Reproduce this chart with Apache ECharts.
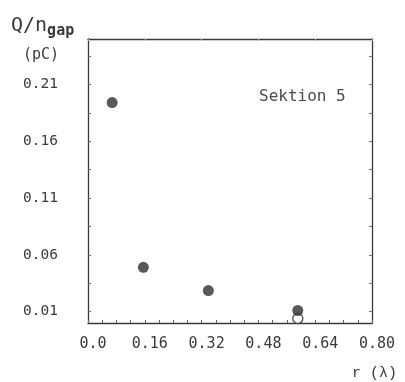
<!DOCTYPE html>
<html>
<head>
<meta charset="utf-8">
<script src="https://cdn.jsdelivr.net/npm/echarts@6/dist/echarts.min.js"></script>
<style>
  html, body { margin: 0; padding: 0; background: #fff; }
  #chart { width: 405px; height: 382px; }
</style>
</head>
<body>
<div id="chart"></div>
<script>
// Charge per gap versus radius, section 5
const rValues      = [0.068, 0.156, 0.339, 0.591];   // r (λ), filled points
const qValues      = [0.194, 0.049, 0.0285, 0.011];  // Q/n_gap (pC), filled points
const rOpen        = [0.591];                        // r (λ), open point
const qOpen        = [0.004];                        // Q/n_gap (pC), open point
const xTicks       = [0, 0.16, 0.32, 0.48, 0.64, 0.80];
const xTickLabels  = ['0.0', '0.16', '0.32', '0.48', '0.64', '0.80'];
const yTicks       = [0.01, 0.06, 0.11, 0.16, 0.21];
const yTickLabels  = ['0.01', '0.06', '0.11', '0.16', '0.21'];
const yMinorTicks  = [0.035, 0.085, 0.135, 0.185, 0.235];

const ink = '#3a3a3a';
const mono = 'DejaVu Sans Mono';

const chart = echarts.init(document.getElementById('chart'), null, { renderer: 'canvas' });

const filled = rValues.map((r, i) => [r, qValues[i]]);
const open = rOpen.map((r, i) => [r, qOpen[i]]);

const pick = (ticks, labels) => v => {
  const i = ticks.findIndex(t => Math.abs(t - v) < 1e-9);
  return i >= 0 ? labels[i] : '';
};

chart.setOption({
  animation: false,
  backgroundColor: '#fff',
  grid: { left: 88, right: 33, top: 39, bottom: 59 },
  xAxis: [
    {
      type: 'value', min: 0, max: 0.8, interval: 0.04, position: 'bottom',
      axisLine: { show: true, onZero: false, lineStyle: { color: ink, width: 1.3 } },
      axisTick: { show: true, inside: true, length: 3, lineStyle: { color: '#666' } },
      splitLine: { show: false },
      axisLabel: {
        customValues: xTicks,
        formatter: pick(xTicks, xTickLabels),
        color: ink, fontFamily: mono, fontSize: 15, margin: 14,
        padding: [0, 0, 0, 10]
      }
    },
    {
      type: 'value', min: 0, max: 0.8, interval: 0.16, position: 'top',
      axisLine: { show: true, onZero: false, lineStyle: { color: ink, width: 1.3 } },
      axisTick: { show: true, inside: true, length: 2, lineStyle: { color: '#aaa' } },
      axisLabel: { show: false },
      splitLine: { show: false }
    }
  ],
  yAxis: [
    {
      type: 'value', min: 0, max: 0.25, position: 'left',
      axisLine: { show: true, onZero: false, lineStyle: { color: ink, width: 1.3 } },
      axisTick: { show: true, inside: true, length: 3, customValues: yTicks.concat(yMinorTicks), lineStyle: { color: '#666' } },
      splitLine: { show: false },
      axisLabel: {
        customValues: yTicks,
        formatter: pick(yTicks, yTickLabels),
        color: ink, fontFamily: mono, fontSize: 14.5, margin: 30, align: 'right'
      }
    },
    {
      type: 'value', min: 0, max: 0.25, position: 'right',
      axisLine: { show: true, onZero: false, lineStyle: { color: ink, width: 1.3 } },
      axisTick: { show: true, inside: true, length: 3, customValues: yTicks.concat(yMinorTicks), lineStyle: { color: '#777' } },
      axisLabel: { show: false },
      splitLine: { show: false }
    }
  ],
  graphic: [
    {
      type: 'text', left: 11, top: 13,
      style: {
        text: '{m|Q/n}{s|gap}',
        rich: {
          m: { fontFamily: mono, fontSize: 20, fill: ink, lineHeight: 24 },
          s: { fontFamily: mono, fontSize: 15, fill: ink, fontWeight: 'bold', padding: [11, 0, 0, 0], lineHeight: 24 }
        }
      }
    },
    {
      type: 'text', left: 23, top: 48,
      style: { text: '(pC)', fontFamily: mono, fontSize: 15, fill: ink }
    },
    {
      type: 'text', left: 259, top: 89,
      style: { text: 'Sektion 5', fontFamily: mono, fontSize: 16, fill: '#4a4a4a' }
    },
    {
      type: 'text', left: 352, top: 366,
      style: { text: 'r (λ)', fontFamily: 'Liberation Mono', fontSize: 15, fill: ink }
    }
  ],
  series: [
    {
      type: 'scatter', xAxisIndex: 0, yAxisIndex: 0,
      data: open, symbol: 'circle', symbolSize: 10,
      itemStyle: { color: '#fff', borderColor: ink, borderWidth: 1.5 }
    },
    {
      type: 'scatter', xAxisIndex: 0, yAxisIndex: 0,
      data: filled, symbol: 'circle', symbolSize: 11,
      itemStyle: { color: '#2e2e2e' }
    }
  ]
});
</script>
</body>
</html>
